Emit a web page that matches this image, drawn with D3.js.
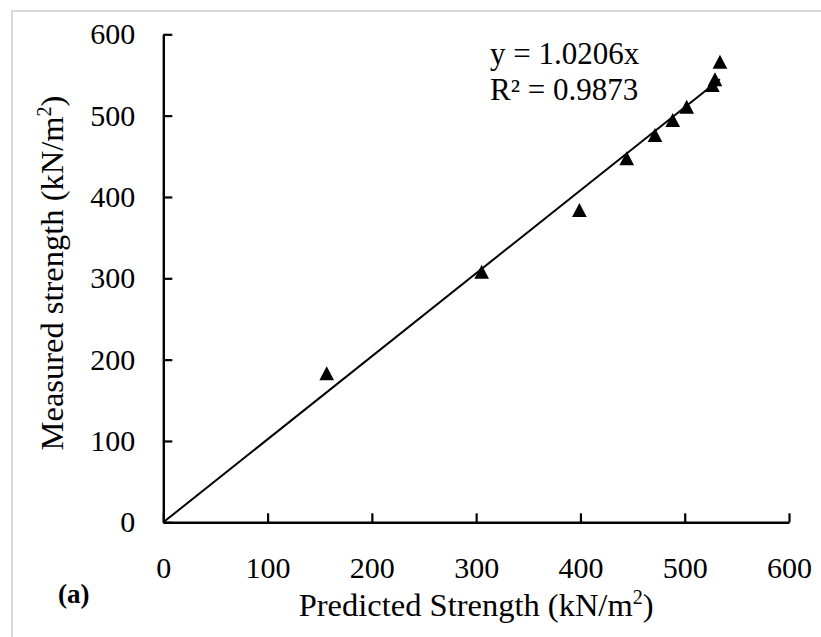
<!DOCTYPE html>
<html>
<head>
<meta charset="utf-8">
<script src="https://cdn.jsdelivr.net/npm/d3@7"></script>
<style>
  html, body { margin: 0; padding: 0; background: #fff; }
  svg { display: block; font-family: "Liberation Serif", "Times New Roman", serif; }
</style>
</head>
<body>
<svg id="chart" width="821" height="637"></svg>
<script>
// Predicted vs. measured strength (kN/m²)
const predicted = [156.7, 305.3, 399.0, 444.4, 471.5, 488.5, 501.9, 526.5, 529.0, 533.8];
const measured  = [183.2, 308.1, 384.0, 447.7, 476.2, 494.7, 511.0, 537.7, 544.7, 566.3];
const xTicks = [0, 100, 200, 300, 400, 500, 600];
const yTicks = [0, 100, 200, 300, 400, 500, 600];
const slope = 1.0206;
const equationLines = ["y = 1.0206x", "R² = 0.9873"];
const panelLabel = "(a)";

const points = predicted.map((p, i) => ({ x: p, y: measured[i] }));

const svg = d3.select("#chart");
const tickFont = 30;
const titleFont = 32.5;
const eqFont = 31;

// light frame around the chart area
svg.append("rect")
  .attr("x", 12).attr("y", 11)
  .attr("width", 900).attr("height", 900)
  .attr("fill", "none")
  .attr("stroke", "#d9d9d9")
  .attr("stroke-width", 2);

const x = d3.scaleLinear().domain([0, 600]).range([163.3, 789]);
const y = d3.scaleLinear().domain([0, 600]).range([522.3, 34.3]);

// x axis, ticks pointing into the plot
const xAxis = svg.append("g")
  .attr("transform", `translate(0,${y(0)})`)
  .call(d3.axisBottom(x).tickValues(xTicks).tickSizeInner(-9).tickSizeOuter(0).tickPadding(34));
// y axis, ticks pointing into the plot
const yAxis = svg.append("g")
  .attr("transform", `translate(${x(0)},0)`)
  .call(d3.axisLeft(y).tickValues(yTicks).tickSizeInner(-9).tickSizeOuter(0).tickPadding(28));

[xAxis, yAxis].forEach(g => {
  g.select(".domain").attr("stroke", "#000").attr("stroke-width", 2.4);
  g.selectAll(".tick line").attr("stroke", "#000").attr("stroke-width", 2.2);
  g.selectAll(".tick text")
    .attr("fill", "#000")
    .style("font-family", "'Liberation Serif', serif")
    .style("font-size", tickFont + "px");
});

// linear trend line through the origin
const xMax = d3.max(predicted);
svg.append("line")
  .attr("x1", x(0)).attr("y1", y(0))
  .attr("x2", x(xMax)).attr("y2", y(slope * xMax))
  .attr("stroke", "#000")
  .attr("stroke-width", 2);

// triangle markers, centred on their bounding box
const triW = 14.7, triH = 14;
const triPath = `M0,${-triH / 2}L${triW / 2},${triH / 2}L${-triW / 2},${triH / 2}Z`;
svg.append("g").selectAll("path")
  .data(points)
  .join("path")
  .attr("d", triPath)
  .attr("transform", d => `translate(${x(d.x)},${y(d.y)})`)
  .attr("fill", "#000");

// regression equation
const eq = svg.append("text")
  .attr("x", 490)
  .attr("y", 64)
  .attr("font-size", eqFont)
  .attr("fill", "#000");
equationLines.forEach((t, i) => {
  eq.append("tspan").attr("x", 490).attr("dy", i === 0 ? 0 : 36).text(t);
});

// axis titles
const xTitle = svg.append("text")
  .attr("x", (x(0) + x(600)) / 2)
  .attr("y", 616)
  .attr("text-anchor", "middle")
  .attr("font-size", titleFont)
  .attr("fill", "#000");
xTitle.append("tspan").text("Predicted Strength (kN/m");
xTitle.append("tspan").attr("dy", -12).attr("font-size", titleFont * 0.62).text("2");
xTitle.append("tspan").attr("dy", 12).text(")");

const yTitle = svg.append("text")
  .attr("transform", `translate(63,273) rotate(-90)`)
  .attr("text-anchor", "middle")
  .attr("font-size", titleFont)
  .attr("fill", "#000");
yTitle.append("tspan").text("Measured strength (kN/m");
yTitle.append("tspan").attr("dy", -12).attr("font-size", titleFont * 0.62).text("2");
yTitle.append("tspan").attr("dy", 12).text(")");

// panel label
svg.append("text")
  .attr("x", 58)
  .attr("y", 603)
  .attr("font-size", 27)
  .attr("font-weight", "bold")
  .attr("fill", "#000")
  .text(panelLabel);
</script>
</body>
</html>
